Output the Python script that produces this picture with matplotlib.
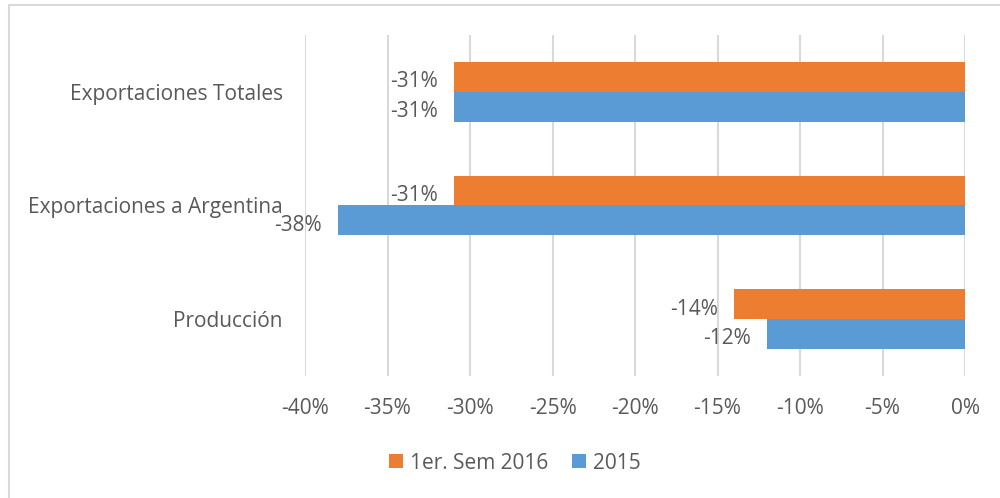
import matplotlib.pyplot as plt
from matplotlib.patches import Rectangle

# Datos
categorias = ['Exportaciones Totales', 'Exportaciones a Argentina', 'Producción']
sem_2016 = [-31, -31, -14]
anio_2015 = [-31, -38, -12]
series = ['1er. Sem 2016', '2015']
ticks_x = [-40, -35, -30, -25, -20, -15, -10, -5, 0]

plt.rcParams['font.family'] = ['Open Sans', 'DejaVu Sans']

gris = '#595959'
naranja = '#ED7D31'
azul = '#5B9BD5'
tam = 15

fig = plt.figure(figsize=(10, 4.98), dpi=100)
ax = fig.add_axes([0.305, 0.245, 0.66, 0.685])

# Borde del area del grafico
fig.patches.append(Rectangle((0.009, -0.1), 1.2, 1.09, transform=fig.transFigure,
                             fill=False, edgecolor='#D9D9D9', linewidth=1.5))

y = list(range(len(categorias)))
alto = 0.263
b1 = ax.barh([p - alto / 2 for p in y], sem_2016, height=alto, color=naranja, label=series[0])
b2 = ax.barh([p + alto / 2 for p in y], anio_2015, height=alto, color=azul, label=series[1])

# Etiquetas de datos a la izquierda del extremo de cada barra
for barras, valores in [(b1, sem_2016), (b2, anio_2015)]:
    for barra, v in zip(barras, valores):
        ax.annotate(f'{v}%', (v, barra.get_y() + barra.get_height() / 2),
                    xytext=(-11.5, -3.5), textcoords='offset points',
                    ha='right', va='center', fontsize=tam, color=gris)

ax.set_xlim(-40, 0)
ax.set_ylim(2.5, -0.5)
ax.set_xticks(ticks_x)
ax.set_xticklabels([f'{t}%' for t in ticks_x])
ax.set_yticks(y)
ax.set_yticklabels(categorias)
ax.tick_params(axis='x', length=0, pad=16, labelsize=tam, labelcolor=gris)
ax.tick_params(axis='y', length=0, pad=16, labelsize=tam, labelcolor=gris)

ax.grid(axis='x', color='#D9D9D9', linewidth=1.5)
ax.set_axisbelow(True)
for s in ax.spines.values():
    s.set_visible(False)

fig.legend(handles=[b1, b2], labels=series, loc='center', bbox_to_anchor=(0.515, 0.07),
           ncol=2, frameon=False, fontsize=tam, labelcolor=gris,
           handlelength=0.67, handleheight=0.67, handletextpad=0.33, columnspacing=1.15)

fig.savefig('out.png', dpi=100)
